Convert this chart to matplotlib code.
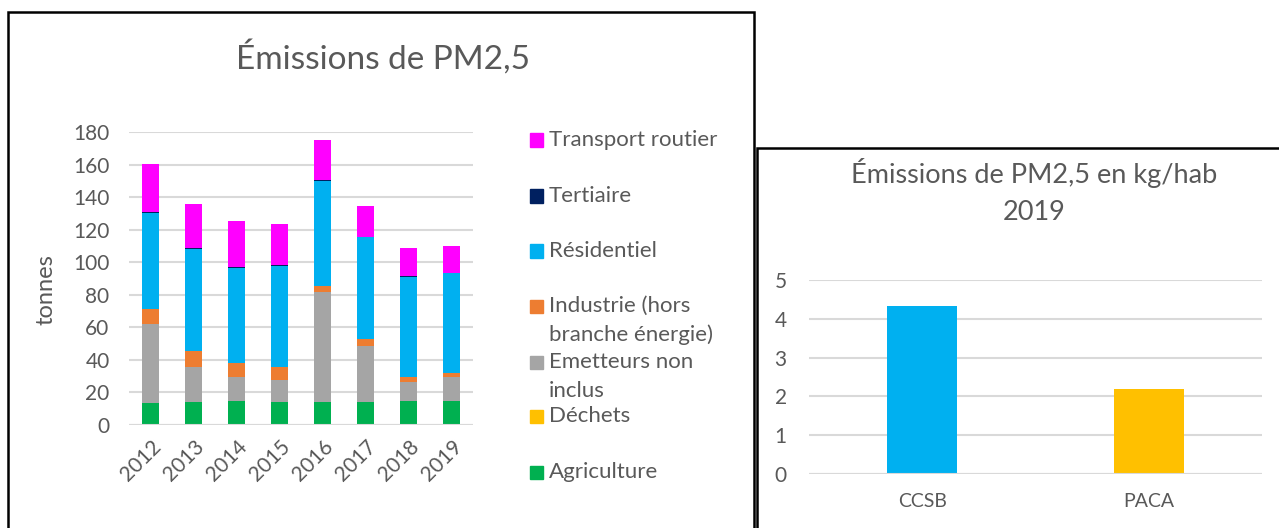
import matplotlib.pyplot as plt
from matplotlib.patches import Rectangle
import numpy as np

plt.rcParams['font.family'] = ['Lato', 'DejaVu Sans']

TEXT = '#595959'
GRID = '#D9D9D9'

# stacked bars, PM2.5 emissions in tonnes
years = ['2012', '2013', '2014', '2015', '2016', '2017', '2018', '2019']
agriculture = [13.3, 14.3, 14.7, 14.3, 14.3, 14.3, 14.9, 14.9]
dechets = [0.1, 0.1, 0.1, 0.1, 0.1, 0.1, 0.1, 0.1]
emetteurs = [48.8, 21.0, 14.7, 13.0, 67.4, 33.9, 11.4, 14.5]
industrie = [9.2, 10.0, 8.7, 8.4, 3.7, 4.7, 3.1, 2.6]
residentiel = [58.9, 63.0, 58.5, 61.8, 64.4, 62.2, 61.7, 61.0]
tertiaire = [0.8, 0.5, 0.4, 0.4, 0.4, 0.6, 0.4, 0.4]
transport = [29.2, 26.8, 28.0, 25.5, 24.6, 19.0, 17.2, 16.6]

series = [
    ('Agriculture', agriculture, '#00B050'),
    ('Déchets', dechets, '#FFC000'),
    ('Emetteurs non\ninclus', emetteurs, '#A5A5A5'),
    ('Industrie (hors\nbranche énergie)', industrie, '#ED7D31'),
    ('Résidentiel', residentiel, '#00B0F0'),
    ('Tertiaire', tertiaire, '#002060'),
    ('Transport routier', transport, '#FF00FF'),
]

# per-inhabitant emissions 2019
zones = ['CCSB', 'PACA']
kg_hab = [4.33, 2.18]
zone_colors = ['#00B0F0', '#FFC000']

W, H = 1279, 528
fig = plt.figure(figsize=(W / 100, H / 100), dpi=100)


def fx(px):
    return px / W


def fy(py):
    return 1 - py / H


def style_axis(ax, size):
    for s in ax.spines.values():
        s.set_visible(False)
    ax.grid(True, axis='y', color=GRID, linewidth=1.5)
    ax.set_axisbelow(True)
    ax.tick_params(length=0, colors=TEXT, labelsize=size)


# frames around the two charts
fig.add_artist(Rectangle((fx(8), fy(560)), fx(754) - fx(8), fy(12) - fy(560),
                         transform=fig.transFigure, fill=False, edgecolor='black',
                         linewidth=1.8, clip_on=False))
fig.add_artist(Rectangle((fx(757), fy(560)), fx(1290) - fx(757), fy(148) - fy(560),
                         transform=fig.transFigure, fill=False, edgecolor='black',
                         linewidth=1.8, clip_on=False))

# left chart
ax1 = fig.add_axes([fx(129), fy(425), fx(473) - fx(129), fy(132) - fy(425)])
style_axis(ax1, 15)
x = np.arange(len(years))
bottom = np.zeros(len(years))
for name, vals, col in series:
    ax1.bar(x, vals, bottom=bottom, width=0.4, color=col)
    bottom += np.array(vals)
ax1.set_ylim(0, 180)
ax1.set_yticks(range(0, 181, 20))
ax1.set_xlim(-0.5, len(years) - 0.5)
ax1.set_xticks(x)
ax1.set_xticklabels(years, rotation=45, ha='right', rotation_mode='anchor')
ax1.tick_params(axis='x', pad=8)
ax1.tick_params(axis='y', pad=14)
ax1.axhline(0, color=GRID, linewidth=1.5)
fig.text(fx(46), fy(290), 'tonnes', rotation=90, ha='center', va='center',
         color=TEXT, fontsize=17)
fig.text(fx(383), fy(57), 'Émissions de PM2,5', ha='center', va='center',
         color=TEXT, fontsize=24)

# legend drawn by hand to keep the first-line alignment
leg_y = [140, 196, 251, 306, 362, 416, 472]
for (name, vals, col), py in zip(series[::-1], leg_y):
    fig.add_artist(Rectangle((fx(530), fy(py + 6.5)), fx(13), 13 / H,
                             transform=fig.transFigure, color=col))
    for i, line in enumerate(name.split('\n')):
        fig.text(fx(549), fy(py + i * 29), line, ha='left', va='center',
                 color=TEXT, fontsize=16)

# right chart
ax2 = fig.add_axes([fx(809), fy(474), fx(1262) - fx(809), fy(280) - fy(474)])
style_axis(ax2, 15)
ax2.bar(np.arange(len(zones)), kg_hab, width=0.31, color=zone_colors)
ax2.set_ylim(0, 5)
ax2.set_yticks(range(0, 6))
ax2.set_xlim(-0.5, len(zones) - 0.5)
ax2.set_xticks(np.arange(len(zones)))
ax2.set_xticklabels(zones, fontsize=14)
ax2.tick_params(axis='x', pad=14)
ax2.tick_params(axis='y', pad=16)
ax2.axhline(0, color=GRID, linewidth=1.5)
fig.text(fx(1034), fy(173), 'Émissions de PM2,5 en kg/hab', ha='center', va='center',
         color=TEXT, fontsize=19.5)
fig.text(fx(1034), fy(212), '2019', ha='center', va='center',
         color=TEXT, fontsize=19.5)

fig.savefig('out.png', dpi=100)
